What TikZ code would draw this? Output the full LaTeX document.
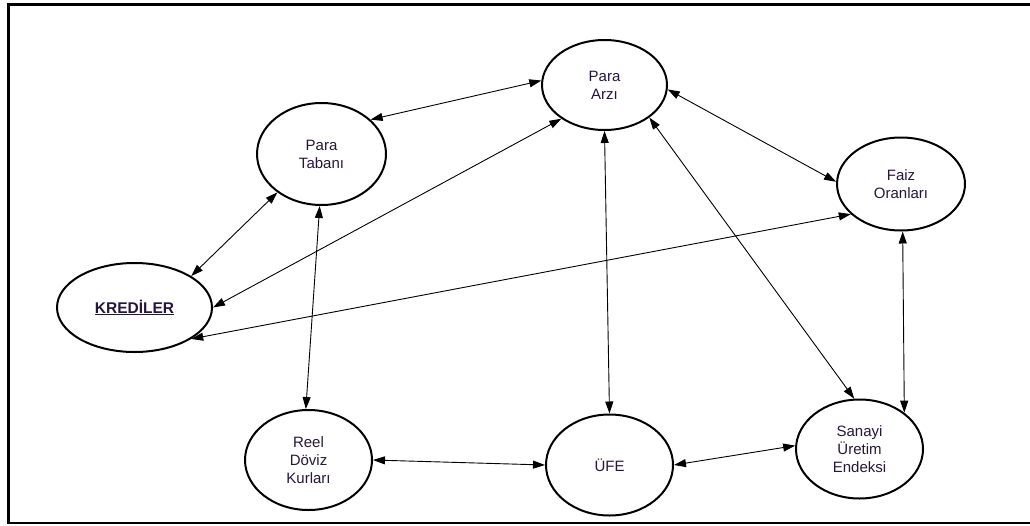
\documentclass[tikz,border=0pt]{standalone}
\usepackage{fontspec}
\setmainfont{Liberation Sans}
\usetikzlibrary{shapes.geometric,arrows.meta}
\definecolor{txt}{RGB}{40,22,58}
\tikzset{
  var/.style={ellipse,draw=black,line width=2pt,fill=white,inner sep=0pt,
    align=center,text=txt,font=\fontsize{15}{18}\selectfont},
  link/.style={line width=0.9pt,{Triangle[length=12pt,width=8pt]}-{Triangle[length=12pt,width=8pt]}}
}
\begin{document}
\begin{tikzpicture}[x=1pt,y=-1pt]
\useasboundingbox (0,0) rectangle (1030,525);
\draw[line width=2.6pt] (1045,4.7) -- (8.5,4.7) -- (8.5,523) -- (1045,523);
\node[var,minimum width=125pt,minimum height=90pt] (A) at (604.5,85) {Para\\Arzı};
\node[var,minimum width=129pt,minimum height=102pt] (T) at (321.5,154) {Para\\Tabanı};
\node[var,minimum width=155pt,minimum height=89pt,font=\fontsize{15.5}{18}\selectfont\bfseries] (K) at (134.5,307.5) {\underline{KREDİLER}};
\node[var,minimum width=128pt,minimum height=93pt] (F) at (901,184) {Faiz\\Oranları};
\node[var,minimum width=127pt,minimum height=100pt] (R) at (308.5,460) {Reel\\Döviz\\Kurları};
\node[var,minimum width=127pt,minimum height=101pt] (U) at (609.5,465) {ÜFE};
\node[var,minimum width=127pt,minimum height=99pt] (S) at (859.5,449) {Sanayi\\Üretim\\Endeksi};
\draw[link] (T.35) -- (A.176);
\draw[link] (A.-4) -- (F.178);
\draw[link] (T.-139) -- (K.29);
\draw[link] (A.-142) -- (K.0);
\draw[link] (F.-149) -- (K.-29.5);
\draw[link] (T.-92) -- (R.93);
\draw[link] (A.-90) -- (U.90);
\draw[link] (A.-36) -- (S.96);
\draw[link] (F.-88) -- (S.39);
\draw[link] (R.0) -- (U.180);
\draw[link] (U.0) -- (S.177);
\end{tikzpicture}
\end{document}
